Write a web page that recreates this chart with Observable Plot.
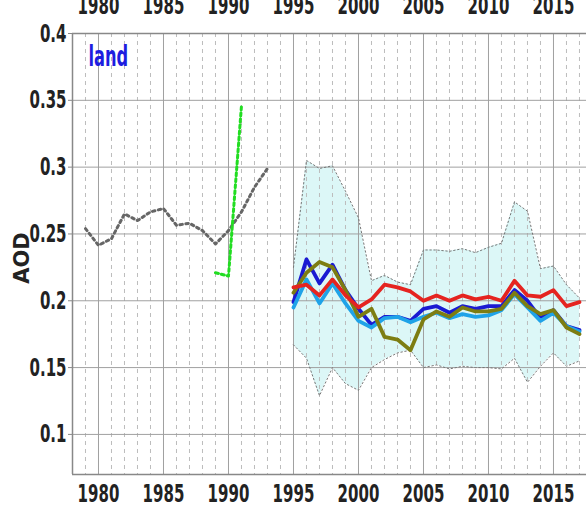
<!DOCTYPE html>
<html><head><meta charset="utf-8">
<script src="https://cdn.jsdelivr.net/npm/d3@7"></script>
<script src="https://cdn.jsdelivr.net/npm/@observablehq/plot@0.6"></script>
<style>body{margin:0;background:#fff;overflow:hidden}</style>
</head><body><div id="chart"></div>
<script>
// ---- data ----
const yearsOld = [1979,1980,1981,1982,1983,1984,1985,1986,1987,1988,1989,1990,1991,1992,1993];
const aodOld   = [0.254,0.2415,0.2465,0.265,0.260,0.2665,0.269,0.2565,0.258,0.2525,0.2425,0.2525,0.2665,0.285,0.299];
const yearsGreen = [1989,1990,1991];
const aodGreen   = [0.221,0.2185,0.346];
const years = [1995,1996,1997,1998,1999,2000,2001,2002,2003,2004,2005,2006,2007,2008,2009,2010,2011,2012,2013,2014,2015,2016,2017];
const redVals   = [0.210,0.212,0.204,0.216,0.204,0.195,0.201,0.212,0.210,0.207,0.200,0.204,0.200,0.204,0.201,0.203,0.200,0.215,0.204,0.203,0.208,0.196,0.199];
const blueVals  = [0.199,0.231,0.213,0.227,0.208,0.194,0.182,0.188,0.188,0.185,0.194,0.196,0.191,0.196,0.194,0.196,0.196,0.208,0.200,0.187,0.193,0.181,0.178];
const cyanVals  = [0.195,0.216,0.198,0.213,0.198,0.185,0.180,0.187,0.188,0.184,0.188,0.191,0.187,0.190,0.188,0.189,0.193,0.205,0.195,0.185,0.191,0.181,0.177];
const oliveVals = [0.206,0.221,0.229,0.225,0.208,0.188,0.194,0.173,0.171,0.163,0.186,0.192,0.188,0.195,0.192,0.192,0.194,0.206,0.196,0.190,0.193,0.180,0.175];
const upperVals = [0.225,0.305,0.299,0.301,0.282,0.262,0.215,0.219,0.214,0.212,0.238,0.238,0.237,0.239,0.236,0.240,0.243,0.274,0.267,0.224,0.226,0.212,0.202];
const lowerVals = [0.167,0.157,0.129,0.150,0.138,0.133,0.150,0.156,0.161,0.163,0.150,0.152,0.149,0.151,0.150,0.150,0.149,0.157,0.139,0.151,0.161,0.151,0.155];
const xTicks = [1980,1985,1990,1995,2000,2005,2010,2015];
const xMinor = [1978,1979,1981,1982,1983,1984,1986,1987,1988,1989,1991,1992,1993,1994,1996,1997,1998,1999,2001,2002,2003,2004,2006,2007,2008,2009,2011,2012,2013,2014,2016,2017];
const yTicks = [0.1,0.15,0.2,0.25,0.3,0.35,0.4];
const panelLabel = "land";
const yLabel = "AOD";

// ---- tables ----
const pts = (xs, ys) => xs.map((x, i) => ({x, y: ys[i]}));
const band = years.map((x, i) => ({x, lo: lowerVals[i], hi: upperVals[i]}));
const xDomain = [1978, 2017.54];
const yDomain = [0.07, 0.4];
const font = "DejaVu Sans";

const plot = Plot.plot({
  width: 586, height: 506,
  marginTop: 33, marginBottom: 32, marginLeft: 72, marginRight: 0,
  x: {domain: xDomain},
  y: {domain: yDomain},
  style: {fontFamily: font, background: "#fff", color: "#222"},
  marks: [
    Plot.areaY(band, {x: "x", y1: "lo", y2: "hi", fill: "#dcf7f7"}),
    Plot.ruleX(xMinor, {stroke: "#bdbdbd", strokeDasharray: "4,4", strokeWidth: 1}),
    Plot.ruleX(xTicks, {stroke: "#a0a0a0", strokeWidth: 1}),
    Plot.ruleY(yTicks, {stroke: "#a0a0a0", strokeWidth: 1, x1: xDomain[0], x2: xDomain[1]}),
    Plot.lineY(band, {x: "x", y: "hi", stroke: "#777", strokeWidth: 1, strokeDasharray: "1.5,2.5"}),
    Plot.lineY(band, {x: "x", y: "lo", stroke: "#777", strokeWidth: 1, strokeDasharray: "1.5,2.5"}),
    Plot.lineY(pts(yearsOld, aodOld), {x: "x", y: "y", stroke: "#666", strokeWidth: 3, strokeDasharray: "2.5,3.5"}),
    Plot.lineY(pts(yearsGreen, aodGreen), {x: "x", y: "y", stroke: "#22dd22", strokeWidth: 3, strokeDasharray: "3,3"}),
    Plot.lineY(pts(years, blueVals), {x: "x", y: "y", stroke: "#1a1ad2", strokeWidth: 3.8}),
    Plot.lineY(pts(years, cyanVals), {x: "x", y: "y", stroke: "#1fa3e8", strokeWidth: 3.8}),
    Plot.lineY(pts(years, oliveVals), {x: "x", y: "y", stroke: "#7d7d12", strokeWidth: 3.8}),
    Plot.lineY(pts(years, redVals), {x: "x", y: "y", stroke: "#e52420", strokeWidth: 3.8}),
    // frame (left, top, bottom)
    Plot.ruleX([xDomain[0]], {stroke: "#888", strokeWidth: 1.5}),
    Plot.ruleY([yDomain[0], yDomain[1]], {stroke: "#888", strokeWidth: 1.5}),
    // axes
    Plot.axisY(yTicks, {tickSize: 4, tickPadding: 2, tickFormat: d => String(d), fontSize: 25, fontWeight: "bold", label: null, stroke: "#888"}),
    Plot.axisX(xTicks, {anchor: "bottom", tickSize: 0, tickPadding: 10, tickFormat: d => String(d), fontSize: 25, fontWeight: "bold", label: null}),
    Plot.axisX(xTicks, {anchor: "top", tickSize: 0, tickPadding: 20, tickFormat: d => String(d), fontSize: 25, fontWeight: "bold", label: null}),
    Plot.text([panelLabel], {frameAnchor: "top-left", dx: 16, dy: 12, text: d => d, fill: "#1d1de0", fontSize: 29, fontWeight: "bold", textAnchor: "start", lineAnchor: "top"}),
    Plot.text([yLabel], {frameAnchor: "left", dx: -50, dy: 4, text: d => d, rotate: -90, fill: "#222", fontSize: 21, fontWeight: "bold", textAnchor: "middle"})
  ]
});
document.getElementById("chart").appendChild(plot);

// condense horizontal text (reference glyphs are tall and narrow) using textLength
function condense(t, s) {
  const len = t.getComputedTextLength();
  if (len > 0) {
    t.setAttribute("textLength", (len * s).toFixed(2));
    t.setAttribute("lengthAdjust", "spacingAndGlyphs");
  }
}
plot.querySelectorAll('g[aria-label$="tick label"] text').forEach(t => condense(t, 0.6));
plot.querySelectorAll("text").forEach(t => { if (t.textContent === panelLabel) condense(t, 0.56); });
</script>
</body></html>
